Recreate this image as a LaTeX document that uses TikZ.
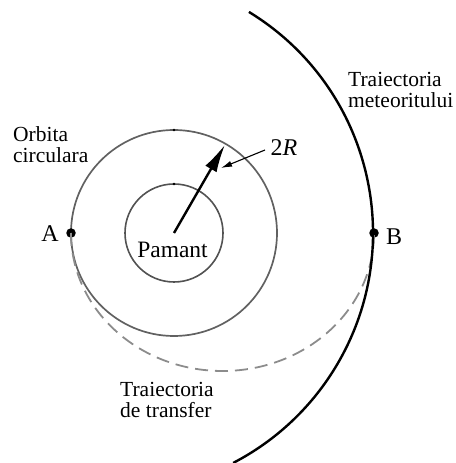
\documentclass[tikz,border=0pt]{standalone}
\usepackage{fontspec}
\setmainfont{Liberation Serif}
\newfontfamily\tnr{Liberation Serif}
\usetikzlibrary{arrows.meta,calc}
\begin{document}
\begin{tikzpicture}[x=1pt,y=1pt,
  lbl/.style={inner sep=0pt,align=left,font=\tnr\fontsize{21.5}{21}\selectfont},
  big/.style={inner sep=0pt,font=\tnr\fontsize{24}{24}\selectfont},
  pt/.style={circle,fill=black,inner sep=0pt,minimum size=9.5pt},
  orbitline/.style={draw=black!62,line width=1.7pt},
  earthline/.style={draw=black!68,line width=1.6pt},
  transfer/.style={draw=black!45,line width=1.8pt,dash pattern=on 13pt off 7pt},
  meteor/.style={draw=black,line width=2.4pt}]
\useasboundingbox (0,0) rectangle (455,463);
\coordinate (C) at (174,230);
\coordinate (M) at (114,230);
% circles
\draw[earthline] (C) circle[radius=49];
\draw[orbitline] (C) circle[radius=103];
\fill (174,333) circle[radius=1.3];
\fill (174,279) circle[radius=1.3];
% points
\node[pt] (A) at (71,230) {};
\node[pt] (B) at (374,230) {};
% transfer ellipse
\draw[transfer] (A.center) arc[start angle=180,end angle=360,x radius=151.5,y radius=138];
% meteor trajectory
\draw[meteor] ($(M)+(58.6:259)$) arc[start angle=58.6,end angle=-62.6,radius=259];
% radius arrow
\coordinate (R) at ($(C)+(60:102)$);
\draw[line width=2.4pt,-{Latex[length=28pt,width=13pt]}] (C) -- (R);
% labels
\node[big] (two) at (284,315) {2\textit{R}};
\coordinate (lt) at (221,295);
\draw[line width=1.1pt,-{Latex[length=11pt,width=6pt]}] (265,313) -- (lt);
\node[big,font=\tnr\fontsize{23.5}{24}\selectfont] (pam) at (172.5,213.5) {Pamant};
\node[big] (la) at (50,229) {A};
\node[big] (lb) at (394,226) {B};
\node[lbl,anchor=west] (met) at (348,373) {Traiectoria\\meteoritului};
\node[lbl,anchor=west] (orb) at (13,318) {Orbita\\circulara};
\node[lbl,anchor=west] (tr) at (120,63) {Traiectoria\\de transfer};
\end{tikzpicture}
\end{document}
